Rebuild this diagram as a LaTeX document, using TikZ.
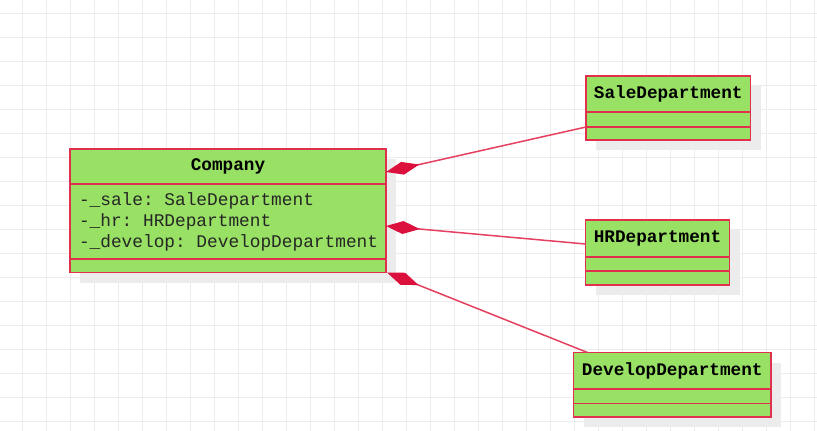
\documentclass[tikz,border=0pt]{standalone}
\usepackage{fontspec}
\setmonofont{Liberation Mono}
\usepackage{tikz}
\usetikzlibrary{positioning,arrows.meta,shadows}
\definecolor{classgreen}{RGB}{152,225,100}
\definecolor{classred}{RGB}{224,48,78}
\definecolor{linkred}{RGB}{230,64,96}
\definecolor{diared}{RGB}{220,16,60}
\definecolor{gridgray}{RGB}{236,236,236}
\definecolor{shadowgray}{RGB}{236,236,236}
\newcommand\monosp{\hspace*{0.6em}}
\tikzset{
    classpart/.style={draw=classred, fill=classgreen, line width=1.5pt, inner sep=0pt, outer sep=0pt,
        drop shadow={shadow xshift=10pt, shadow yshift=-10pt, fill=shadowgray, opacity=1},
        font=\ttfamily\fontsize{17.8}{21}\selectfont, text=black!85},
    classhead/.style={classpart, anchor=north west, minimum height=36pt,
        font=\ttfamily\bfseries\fontsize{17.7}{21}\selectfont, text=black},
    gridline/.style={gridgray, line width=1pt},
    compose/.style={linkred, line width=1.5pt,
        {Diamond[length=34pt,width=13pt,fill=diared,color=diared]}-},
}

\begin{document}
\begin{tikzpicture}[x=1pt, y=-1pt]
\useasboundingbox[fill=white] (0,0) rectangle (817,431);
\foreach \x in {22,46,...,814} \draw[gridline] (\x,0) -- (\x,431);
\foreach \y in {13,37,...,421} \draw[gridline] (0,\y) -- (817,\y);

% Company
\node[classhead, minimum width=316pt, minimum height=35pt] (company) at (70,149) {Company};
\node[classpart, minimum width=316pt, minimum height=75pt, text width=298pt, inner xsep=9pt, align=left, below=0pt of company] (company attr)
    {-\_sale:\monosp SaleDepartment\\-\_hr:\monosp HRDepartment\\-\_develop:\monosp DevelopDepartment};
\node[classpart, minimum width=316pt, minimum height=13.5pt, below=0pt of company attr] (company ops) {};

% departments
\node[classhead, minimum width=164.5pt] (sale) at (586,76) {SaleDepartment};
\node[classpart, minimum width=164.5pt, minimum height=15pt, below=0pt of sale] (sale attr) {};
\node[classpart, minimum width=164.5pt, minimum height=13pt, below=0pt of sale attr] (sale ops) {};

\node[classhead, minimum width=144pt, minimum height=37pt] (hr) at (585.5,220) {HRDepartment};
\node[classpart, minimum width=144pt, minimum height=14pt, below=0pt of hr] (hr attr) {};
\node[classpart, minimum width=144pt, minimum height=14pt, below=0pt of hr attr] (hr ops) {};

\node[classhead, minimum width=197.5pt, minimum height=36.5pt] (develop) at (573.5,352.5) {DevelopDepartment};
\node[classpart, minimum width=197.5pt, minimum height=14.5pt, below=0pt of develop] (develop attr) {};
\node[classpart, minimum width=197.5pt, minimum height=13.5pt, below=0pt of develop attr] (develop ops) {};

% compositions
\draw[compose] ([yshift=-5.5pt]company.east) -- (sale attr.south west);
\draw[compose] ([yshift=-4.5pt]company attr.east) -- ([yshift=-5.5pt]hr.west);
\draw[compose] ([xshift=1pt]company ops.south east) -- ([xshift=14pt]develop.north west);
\end{tikzpicture}
\end{document}
